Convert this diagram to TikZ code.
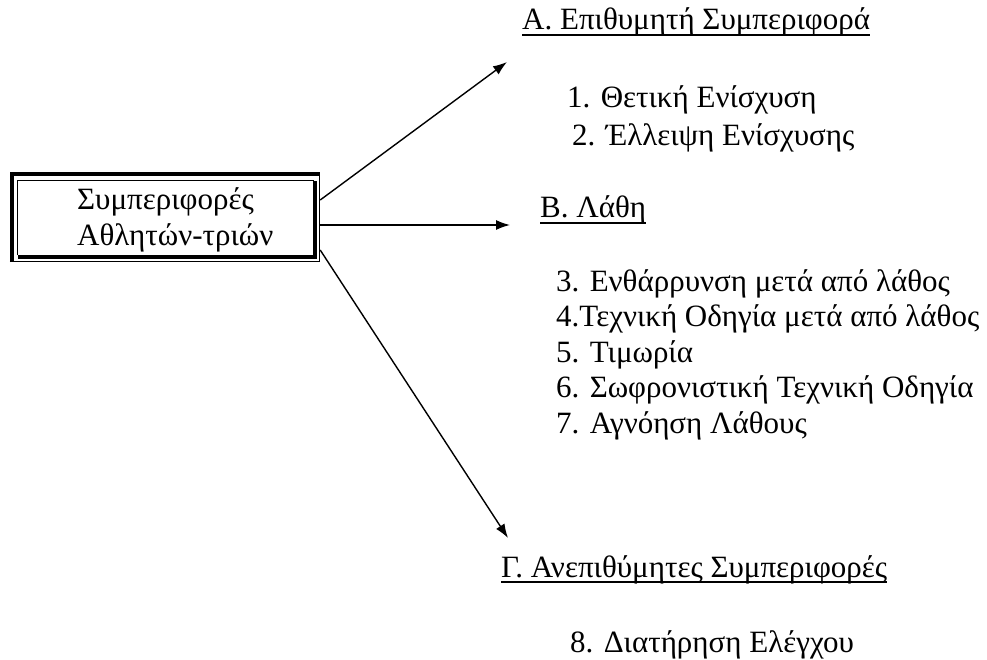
\documentclass[tikz,border=0pt]{standalone}
\usepackage{fontspec}
\setmainfont{Liberation Serif}
\usepackage{tikz}
\usetikzlibrary{arrows.meta,positioning}

\begin{document}
\begin{tikzpicture}[x=1pt,y=-1pt,font=\fontsize{31}{36}\selectfont,
	txt/.style={anchor=base west,inner sep=0pt},
	link/.style={line width=1.4pt,-{Latex[length=14pt,width=10pt]}}]
	\useasboundingbox (0,0) rectangle (987,660);
	\node[minimum width=310pt,minimum height=90pt,inner sep=0pt] (box) at (165,217) {};
	\node[txt] (name-1) at (77,210) {Συμπεριφορές};
	\node[txt] (name-2) at (77,246) {Αθλητών-τριών};
	\draw[line width=4pt] ([xshift=2pt]box.south west) |- ([yshift=-2pt]box.north east);
	\draw[line width=1.2pt] ([yshift=0.6pt]box.south west) -| ([xshift=-0.6pt]box.north east);
	\draw[line width=1.2pt] ([shift={(8pt,7pt)}]box.south west) |- ([shift={(-6pt,-9pt)}]box.north east);
	\draw[line width=4pt] ([shift={(8pt,5.5pt)}]box.south west) -| ([shift={(-5.5pt,-9pt)}]box.north east);

	\node[txt] (hA) at (522,30) {Α. Επιθυμητή Συμπεριφορά};
	\node[txt] (hB) at (540,218) {Β. Λάθη};
	\node[txt] (hC) at (501,577) {Γ. Ανεπιθύμητες Συμπεριφορές};
	\foreach \h in {hA,hB,hC}{\draw[line width=1.2pt] ([yshift=-5pt]\h.base west) -- ([yshift=-5pt]\h.base east);}

	\node[txt] (a-1) at (567,108) {1. Θετική Ενίσχυση};
	\node[txt] (a-2) at (572,146) {2. Έλλειψη Ενίσχυσης};
	\foreach \t [count=\i] in {3. Ενθάρρυνση μετά από λάθος,4.Τεχνική Οδηγία μετά από λάθος,5. Τιμωρία,6. Σωφρονιστική Τεχνική Οδηγία,7. Αγνόηση Λάθους}{
		\node[txt] (b-\i) at (556,291+35.5*\i-35.5) {\t};
	}
	\node[txt] (c-1) at (570,652) {8. Διατήρηση Ελέγχου};

	\coordinate (tA) at (507,62);
	\coordinate (tB) at (510,225);
	\coordinate (tC) at (508,538);
	\draw[link] ([yshift=17pt]box.east) -- (tA);
	\draw[link] ([yshift=-8pt]box.east) -- (tB);
	\draw[link] ([yshift=-33pt]box.east) -- (tC);
\end{tikzpicture}
\end{document}
